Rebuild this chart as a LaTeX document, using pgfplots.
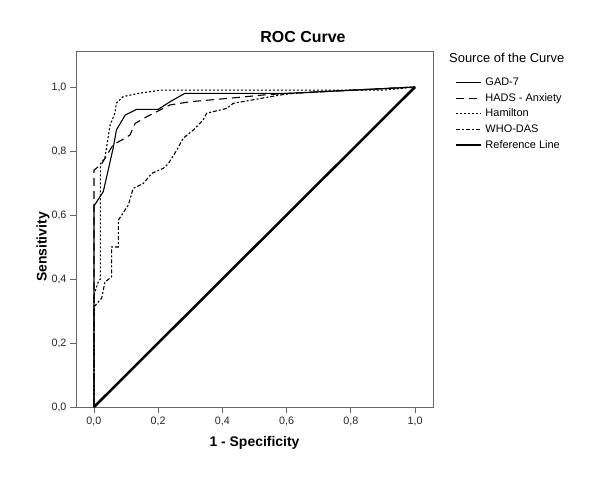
\documentclass[border=0pt]{standalone}
\usepackage{fontspec}
\setmainfont{Liberation Sans}
\usepackage{pgfplots}
\pgfplotsset{compat=1.18}
\begin{document}
\begin{tikzpicture}
\begin{axis}[
  at={(0,0)}, anchor=south west,
  scale only axis, width=357bp, height=356bp,
  xmin=-0.056, xmax=1.056, ymin=0, ymax=1.1125,
  xtick={0,0.2,0.4,0.6,0.8,1}, ytick={0,0.2,0.4,0.6,0.8,1},
  xticklabels={{0,0},{0,2},{0,4},{0,6},{0,8},{1,0}},
  yticklabels={{0,0},{0,2},{0,4},{0,6},{0,8},{1,0}},
  tick pos=left, tick align=outside, major tick length=6bp,
  axis line style={black!60, line width=0.9bp},
  tick style={black!60, line width=0.9bp},
  ticklabel style={font=\fontsize{10.8}{12}\selectfont, text=black!85},
  xlabel={1 - Specificity}, ylabel={Sensitivity},
  xlabel style={at={(axis description cs:0.5,0)}, yshift=-36bp, anchor=center, font=\fontsize{14}{16}\selectfont\bfseries},
  ylabel style={at={(axis description cs:0,0.4494)}, yshift=33bp, anchor=center, font=\fontsize{14}{16}\selectfont\bfseries},
  legend cell align=left,
  legend image code/.code={\draw[#1] (0bp,0bp) -- (25bp,0bp);},
  legend style={draw=none, fill=none, at={(rel axis cs:1.0616,0.9334)}, anchor=north west,
    font=\fontsize{11}{13}\selectfont, inner sep=0pt, row sep=0pt, column sep=0pt,
    nodes={text height=8bp, text depth=2bp, inner sep=2.8bp}},
]
\addplot[black, line width=1.1bp] coordinates {(0,0)(0,0.628)(0.029,0.673)(0.06,0.81)(0.07,0.866)(0.097,0.912)(0.133,0.93)(0.2,0.93)(0.237,0.954)(0.283,0.98)(0.6,0.98)(0.8,0.99)(1,1)};
\addlegendentry{GAD-7}
\addplot[black, line width=1.1bp, dash pattern=on 8bp off 5bp] coordinates {(0,0)(0,0.74)(0.024,0.76)(0.06,0.82)(0.086,0.834)(0.112,0.85)(0.128,0.886)(0.164,0.907)(0.206,0.928)(0.237,0.944)(0.3,0.954)(0.424,0.965)(0.527,0.975)(0.6,0.98)(1,1)};
\addlegendentry{HADS - Anxiety}
\addplot[black, line width=1.1bp, dash pattern=on 2bp off 2bp] coordinates {(0,0)(0,0.35)(0.013,0.39)(0.02,0.40)(0.02,0.76)(0.034,0.778)(0.05,0.88)(0.065,0.918)(0.07,0.95)(0.091,0.97)(0.138,0.98)(0.206,0.99)(0.9,0.99)(1,1)};
\addlegendentry{Hamilton}
\addplot[black, line width=1.1bp, dash pattern=on 4bp off 2bp on 2bp off 2bp] coordinates {(0,0)(0,0.313)(0.024,0.34)(0.034,0.39)(0.055,0.407)(0.055,0.5)(0.076,0.5)(0.076,0.584)(0.107,0.631)(0.122,0.683)(0.154,0.699)(0.18,0.73)(0.216,0.746)(0.232,0.761)(0.258,0.803)(0.278,0.84)(0.31,0.866)(0.34,0.897)(0.351,0.918)(0.413,0.933)(0.434,0.949)(0.58,0.975)(0.62,0.98)(1,1)};
\addlegendentry{WHO-DAS}
\addplot[black, line width=2.5bp] coordinates {(0,0)(1,1)};
\addlegendentry{Reference Line}
\end{axis}
\node[anchor=west, font=\fontsize{13}{15}\selectfont, inner sep=0pt] at (373bp,349bp) {Source of the Curve};
\node[font=\fontsize{16}{18}\selectfont\bfseries, inner sep=0pt] at (227bp,370bp) {ROC Curve};
\path (-76bp,-75bp) rectangle (524bp,407bp);
\end{tikzpicture}
\end{document}
